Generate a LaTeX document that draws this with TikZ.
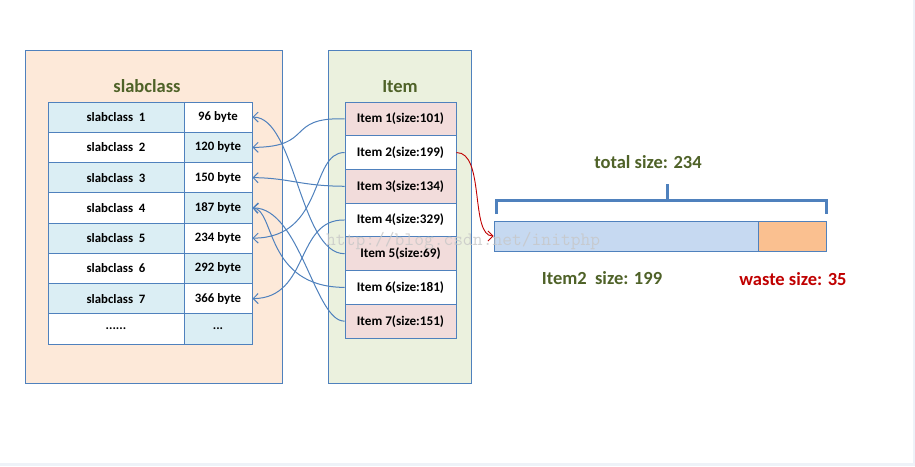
\documentclass[tikz,border=0pt]{standalone}
\usepackage{fontspec}
\setmainfont{Carlito}
\usetikzlibrary{arrows.meta}
\definecolor{bd}{HTML}{4F81BD}
\definecolor{peach}{HTML}{FDE9D9}
\definecolor{lb}{HTML}{DBEEF4}
\definecolor{lg}{HTML}{EBF1DE}
\definecolor{pk}{HTML}{F2DCDB}
\definecolor{olive}{HTML}{4F6228}
\definecolor{barblue}{HTML}{C6D9F1}
\definecolor{barorange}{HTML}{FAC090}
\definecolor{dred}{HTML}{C00000}
\definecolor{edge}{HTML}{EEF2F8}
\begin{document}
\begin{tikzpicture}[x=1pt,y=-1pt,
  panel/.style={draw=bd, line width=0.9pt, inner sep=0},
  cell/.style={draw=bd, line width=0.9pt, inner sep=0, minimum height=30.25pt, font=\bfseries\fontsize{12.8}{14}\selectfont},
  lcell/.style={cell, minimum width=136pt},
  rcell/.style={cell, minimum width=68pt},
  icell/.style={draw=bd, line width=0.9pt, inner sep=0, minimum width=111pt, minimum height=33.71pt, font=\bfseries\fontsize{13.2}{14}\selectfont},
  ttl/.style={text=olive, font=\bfseries\fontsize{18.5}{20}\selectfont},
  conn/.style={draw=bd, line width=1pt, -{Straight Barb[length=5pt,width=10pt]}},
  rconn/.style={draw=dred, line width=0.9pt, -{Straight Barb[length=5pt,width=10pt]}},
  brk/.style={draw=bd, line width=3pt}
]
\useasboundingbox (0,0) rectangle (915,466);
\fill[white] (0,0) rectangle (915,466);
\fill[edge] (0,463) rectangle (915,466);
\fill[edge] (913,0) rectangle (915,466);

% panels
\node[panel, fill=peach, minimum width=257pt, minimum height=333pt] (lpanel) at (153.5,216.5) {};
\node[panel, fill=lg, minimum width=143pt, minimum height=333pt] (mpanel) at (399.5,216.5) {};
\node[ttl] (t1) at (147,86) {slabclass};
\node[ttl] (t2) at (400,87) {Item};

% slabclass table
\foreach \i/\b/\lf/\rf in {1/96 byte/lb/white, 2/120 byte/white/lb, 3/150 byte/lb/white, 4/187 byte/white/lb, 5/234 byte/lb/white, 6/292 byte/white/lb, 7/366 byte/lb/white}{
  \node[lcell, fill=\lf] (s\i) at (116, {102+30.25*(\i-0.5)}) {slabclass~\ \i};
  \node[rcell, fill=\rf] (b\i) at (218, {102+30.25*(\i-0.5)}) {\b};
}
\node[lcell, fill=white] (s8) at (116, {102+30.25*7.5}) {......};
\node[rcell, fill=lb] (b8) at (218, {102+30.25*7.5}) {...};

% item table
\foreach \i/\s/\f in {1/101/pk, 2/199/white, 3/134/pk, 4/329/white, 5/69/pk, 6/181/white, 7/151/pk}{
  \node[icell, fill=\f] (i\i) at (400.5, {102+33.71*(\i-0.5)}) {Item \i(size:\s)};
}

% connectors
\draw[conn] (i1.west) .. controls (285,117) and (315,147) .. (b2.east);
\draw[conn] (i3.west) .. controls (300,186) and (290,178) .. (b3.east);
\draw[conn] (i2.west) .. controls (310,152) and (325,238) .. (b5.east);
\draw[conn] (i4.west) .. controls (295,219) and (310,298) .. (b7.east);
\draw[conn] (i5.west) .. controls (300,254) and (295,117) .. (b1.east);
\draw[conn] (i6.west) .. controls (265,287) and (275,210) .. (b4.east);
\draw[conn] (i7.west) .. controls (315,322) and (300,208) .. (b4.east);

% bar
\node[draw=bd, line width=0.9pt, fill=barblue, inner sep=0, minimum width=264pt, minimum height=30pt] (used) at (626,236) {};
\node[draw=bd, line width=0.9pt, fill=barorange, inner sep=0, minimum width=68pt, minimum height=30pt] (waste) at (792,236) {};
\draw[rconn] (i2.east) .. controls (485,152) and (470,236) .. (used.west);

% bracket
\coordinate (bl) at (496,214);
\coordinate (br) at (826,214);
\coordinate (bc) at (667,200);
\coordinate (bt) at (667,184);
\draw[brk] (bl) -- (496,200) -- (826,200) -- (br);
\draw[brk] (bc) -- (bt);

\node[ttl] (total) at (648,162) {total size: 234};
\node[ttl] (i2size) at (602,278) {Item2\ \ size: 199};
\node[ttl, text=dred] (wsize) at (793,279) {waste size: 35};

% watermark
\node[anchor=west, text=black!22, opacity=0.8, font=\ttfamily\fontsize{19}{20}\selectfont, inner sep=0] (wm) at (326,241) {http://blog.csdn.net/initphp};
\end{tikzpicture}
\end{document}
